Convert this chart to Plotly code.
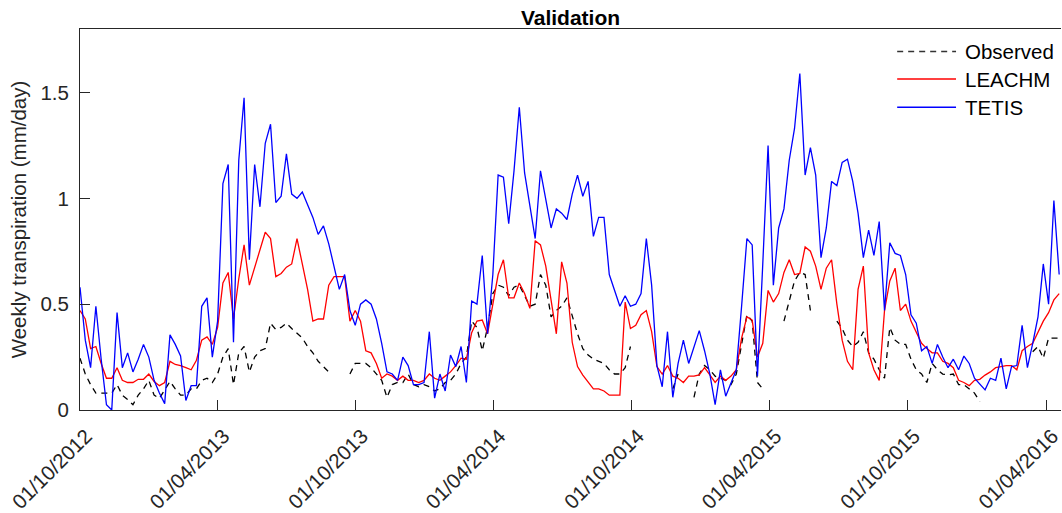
import pandas as pd
import plotly.graph_objects as go

week_start = "2012-10-01"

tetis = [0.58, 0.33, 0.20, 0.49, 0.24, 0.025, 0.0, 0.46, 0.20, 0.27, 0.18, 0.24, 0.31, 0.25, 0.14, 0.08, 0.03, 0.355, 0.31, 0.255,
         0.045, 0.115, 0.115, 0.49, 0.53, 0.25, 0.42, 1.07, 1.16, 0.32, 1.18, 1.475, 0.71, 1.16, 0.96, 1.26, 1.35, 0.98, 1.01, 1.21,
         1.02, 1.00, 1.03, 0.97, 0.91, 0.83, 0.87, 0.785, 0.675, 0.57, 0.64, 0.47, 0.40, 0.50, 0.52, 0.50, 0.43, 0.315, 0.18, 0.17,
         0.14, 0.25, 0.21, 0.12, 0.12, 0.13, 0.37, 0.056, 0.17, 0.09, 0.26, 0.205, 0.30, 0.13, 0.515, 0.50, 0.73, 0.36, 0.64, 1.11,
         1.10, 0.88, 1.13, 1.43, 1.12, 0.97, 0.81, 1.13, 1.00, 0.86, 0.95, 0.93, 0.90, 1.02, 1.11, 1.01, 1.08, 0.82, 0.91, 0.91,
         0.64, 0.57, 0.49, 0.54, 0.49, 0.50, 0.55, 0.81, 0.59, 0.21, 0.11, 0.37, 0.06, 0.22, 0.33, 0.22, 0.30, 0.375, 0.28, 0.17,
         0.025, 0.19, 0.065, 0.13, 0.19, 0.49, 0.81, 0.78, 0.16, 0.69, 1.25, 0.59, 0.86, 0.95, 1.18, 1.33, 1.59, 1.11, 1.24, 1.11,
         0.72, 0.86, 1.08, 1.06, 1.17, 1.185, 1.08, 0.93, 0.72, 0.85, 0.73, 0.89, 0.47, 0.79, 0.74, 0.73, 0.64, 0.45, 0.41, 0.28,
         0.30, 0.22, 0.31, 0.25, 0.20, 0.24, 0.19, 0.255, 0.22, 0.15, 0.12, 0.095, 0.15, 0.14, 0.245, 0.10, 0.205, 0.21, 0.40, 0.20,
         0.315, 0.44, 0.69, 0.50, 0.99, 0.64]

leachm = [0.47, 0.43, 0.29, 0.30, 0.22, 0.15, 0.15, 0.20, 0.14, 0.13, 0.13, 0.145, 0.145, 0.17, 0.135, 0.115, 0.13, 0.23, 0.215, 0.21,
          0.20, 0.19, 0.235, 0.33, 0.345, 0.31, 0.39, 0.60, 0.65, 0.43, 0.62, 0.78, 0.59, 0.67, 0.76, 0.84, 0.81, 0.63, 0.645, 0.675,
          0.69, 0.81, 0.69, 0.57, 0.42, 0.43, 0.43, 0.59, 0.63, 0.63, 0.63, 0.42, 0.47, 0.42, 0.28, 0.27, 0.22, 0.15, 0.17, 0.16,
          0.14, 0.16, 0.14, 0.14, 0.13, 0.14, 0.17, 0.15, 0.14, 0.16, 0.18, 0.21, 0.245, 0.24, 0.365, 0.42, 0.425, 0.36, 0.50, 0.64,
          0.71, 0.53, 0.53, 0.60, 0.55, 0.48, 0.80, 0.78, 0.68, 0.52, 0.36, 0.70, 0.60, 0.32, 0.205, 0.165, 0.135, 0.10, 0.10, 0.09,
          0.07, 0.07, 0.07, 0.51, 0.385, 0.40, 0.45, 0.47, 0.37, 0.205, 0.17, 0.21, 0.16, 0.15, 0.13, 0.16, 0.16, 0.166, 0.20, 0.166,
          0.13, 0.16, 0.14, 0.16, 0.19, 0.34, 0.44, 0.425, 0.25, 0.315, 0.565, 0.51, 0.55, 0.65, 0.71, 0.64, 0.645, 0.77, 0.75, 0.68,
          0.57, 0.67, 0.71, 0.50, 0.33, 0.23, 0.19, 0.57, 0.68, 0.27, 0.19, 0.14, 0.47, 0.61, 0.67, 0.47, 0.50, 0.42, 0.37, 0.315,
          0.29, 0.27, 0.27, 0.23, 0.22, 0.20, 0.14, 0.13, 0.115, 0.14, 0.145, 0.165, 0.18, 0.20, 0.205, 0.21, 0.21, 0.19, 0.28, 0.30,
          0.315, 0.37, 0.42, 0.46, 0.52, 0.55]

observed = [0.245, 0.17, 0.12, 0.08, 0.08, 0.08, 0.08, 0.12, 0.07, 0.05, 0.025, 0.07, 0.10, 0.14, 0.07, 0.055, 0.095, 0.135, 0.10, 0.07,
            0.07, 0.10, 0.10, 0.14, 0.15, 0.13, 0.17, 0.25, 0.29, 0.12, 0.27, 0.30, 0.18, 0.25, 0.28, 0.29, 0.41, 0.38, 0.39, 0.41,
            0.385, 0.36, 0.34, 0.30, 0.27, 0.23, 0.205, 0.18, None, None, None, 0.17, 0.22, 0.22, 0.22, 0.20, 0.17, 0.14, 0.06, 0.12,
            0.13, 0.13, 0.17, 0.12, 0.11, 0.12, 0.11, 0.09, 0.10, 0.13, 0.14, 0.17, 0.22, 0.25, 0.42, 0.39, 0.28, 0.39, 0.55, 0.59,
            0.58, 0.54, 0.58, 0.59, 0.54, 0.49, 0.50, 0.64, 0.59, 0.44, 0.47, 0.49, 0.53, 0.44, 0.36, 0.29, 0.26, 0.24, 0.23, 0.22,
            0.19, 0.17, 0.17, 0.20, 0.30, None, None, None, None, None, None, None, 0.10, 0.17, None, None, 0.06, 0.17, 0.21, 0.19,
            0.16, 0.15, 0.14, 0.12, 0.17, 0.31, 0.45, 0.42, 0.13, 0.10, None, None, None, 0.42, 0.52, 0.61, 0.65, 0.64, 0.47, None,
            None, None, None, 0.42, 0.385, 0.33, 0.30, 0.32, 0.37, 0.27, 0.24, 0.19, 0.15, 0.39, 0.33, 0.31, 0.31, 0.24, 0.19, 0.17,
            0.13, 0.22, 0.19, 0.17, 0.165, 0.17, 0.12, 0.12, 0.10, 0.08, 0.04, None, None, None, None, None, None, None, None, None,
            0.275, 0.30, 0.245, 0.34, 0.34, 0.34]

tick_dates = ["2012-10-01", "2013-04-01", "2013-10-01", "2014-04-01", "2014-10-01", "2015-04-01", "2015-10-01", "2016-04-01"]
tick_labels = ["01/10/2012", "01/04/2013", "01/10/2013", "01/04/2014", "01/10/2014", "01/04/2015", "01/10/2015", "01/04/2016"]
y_ticks = [0, 0.5, 1, 1.5]
y_tick_labels = ["0", "0.5", "1", "1.5"]
series_names = ["Observed", "LEACHM", "TETIS"]

dates = pd.date_range(week_start, periods=len(tetis), freq="7D")

FONT = "Liberation Sans, Arial, sans-serif"
AX = "#262626"

fig = go.Figure()
fig.add_trace(go.Scatter(x=dates, y=observed, mode="lines", name=series_names[0],
                         line=dict(color="#000000", width=1.3, dash="6px,5px"), showlegend=False))
fig.add_trace(go.Scatter(x=dates, y=leachm, mode="lines", name=series_names[1],
                         line=dict(color="#FF0000", width=1.3), showlegend=False))
fig.add_trace(go.Scatter(x=dates, y=tetis, mode="lines", name=series_names[2],
                         line=dict(color="#0000FF", width=1.3), showlegend=False))

# manual legend (paper coordinates)
leg_y = [0.9407, 0.8687, 0.7945]
leg_styles = [dict(color="#333333", width=1.5, dash="6px,5px"),
              dict(color="#FF0000", width=1.4),
              dict(color="#0000FF", width=1.4)]
for name, yy, st in zip(series_names, leg_y, leg_styles):
    fig.add_shape(type="line", xref="paper", yref="paper", x0=0.833, x1=0.893, y0=yy, y1=yy, line=st)
    fig.add_annotation(xref="paper", yref="paper", x=0.9002, y=yy, text=name, showarrow=False,
                       xanchor="left", yanchor="middle", font=dict(family=FONT, size=20.5, color="#000000"))

fig.update_layout(
    width=1062, height=513,
    margin=dict(l=80, r=0, t=29, b=101),
    paper_bgcolor="white", plot_bgcolor="white",
    title=dict(text="<b>Validation</b>", x=0.5, xref="paper", xanchor="center",
               y=1 - 17.5 / 513, yref="container", yanchor="middle",
               font=dict(family=FONT, size=21, color="#000000")),
    showlegend=False,
)
fig.update_xaxes(
    type="date", range=["2012-10-01", "2016-04-20 10:00"],
    tickmode="array", tickvals=tick_dates, ticktext=tick_labels, tickangle=-45,
    ticks="inside", ticklen=10, tickcolor=AX, tickwidth=1,
    showline=True, linecolor=AX, linewidth=1, mirror=True,
    showgrid=False, zeroline=False, ticklabelshift=6, ticklabelstandoff=5,
    ticklabeloverflow="allow",
    tickfont=dict(family=FONT, size=20.5, color=AX),
)
fig.update_yaxes(
    range=[0, 1.8], tickmode="array", tickvals=y_ticks, ticktext=y_tick_labels,
    ticks="inside", ticklen=10, tickcolor=AX, tickwidth=1,
    showline=True, linecolor=AX, linewidth=1, mirror=False,
    showgrid=False, zeroline=False, ticklabelstandoff=6,
    tickfont=dict(family=FONT, size=20.5, color=AX),
    title=dict(text="Weekly transpiration (mm/day)", standoff=8,
               font=dict(family=FONT, size=20.5, color=AX)),
)

fig.write_html("out.html")
